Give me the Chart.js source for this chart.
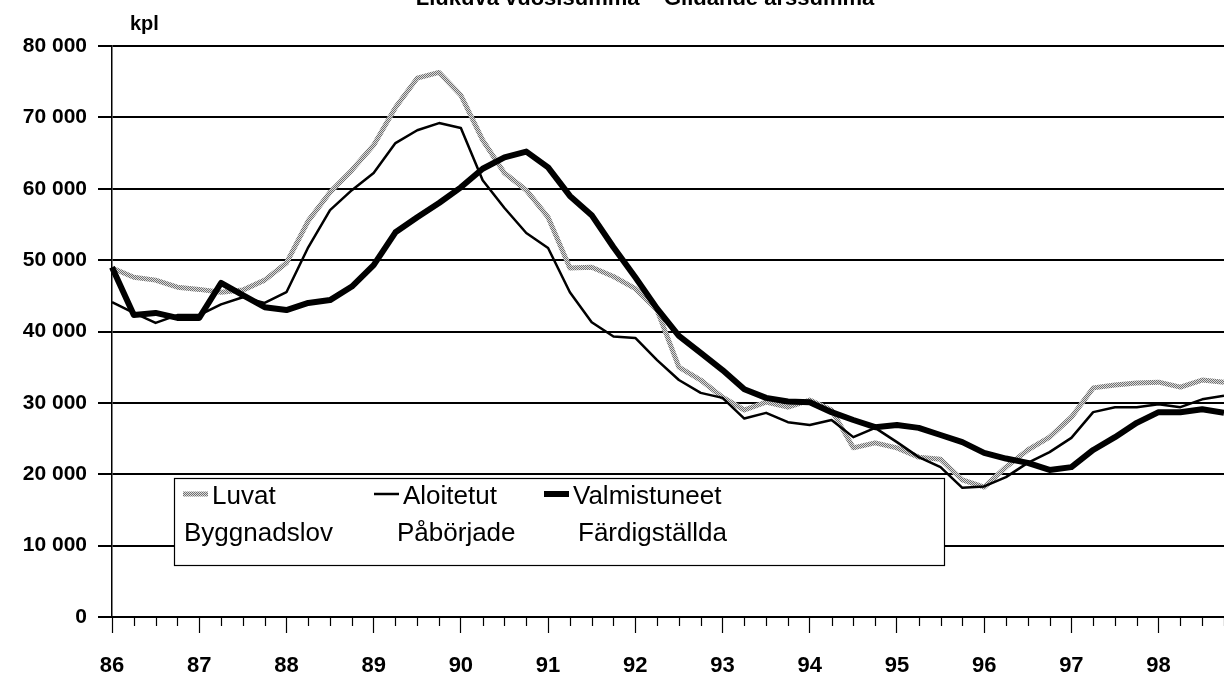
<!DOCTYPE html>
<html><head><meta charset="utf-8">
<script src="https://cdn.jsdelivr.net/npm/chart.js@4/dist/chart.umd.min.js"></script>
<style>html,body{margin:0;padding:0;background:#fff;}#wrap{width:1224px;height:674px;}</style>
</head><body><div id="wrap"><canvas id="c" width="1224" height="674"></canvas></div>
<script>
const titleText = 'Liukuva vuosisumma – Glidande årssumma';
const unitLabel = 'kpl';
const years = ['86','87','88','89','90','91','92','93','94','95','96','97','98'];
const quartersPerYear = 4;
const seriesNamesFi = ['Luvat','Aloitetut','Valmistuneet'];
const seriesNamesSv = ['Byggnadslov','Påbörjade','Färdigställda'];

const luvat = [48900,47600,47200,46200, 45900,45500,45800,47200, 49600,55500,59500,62600,
  66100,71400,75500,76300, 73100,66800,62200,59800, 56000,48900,49000,47700,
  46000,43000,35000,33200, 30800,29000,30100,29400, 30400,29000,23700,24400,
  23700,22400,22100,19200, 18200,21000,23400,25200, 28000,32100,32500,32800,
  32900,32200,33200,32900];
const aloitetut = [44100,42600,41200,42300, 42300,43800,44800,44000, 45500,51800,57000,59800,
  62200,66400,68200,69200, 68500,61200,57300,53800, 51700,45500,41300,39300,
  39100,36000,33200,31400, 30700,27800,28600,27300, 26900,27600,25200,26500,
  24500,22400,21000,18100, 18300,19600,21600,23100, 25100,28700,29400,29400,
  29800,29400,30500,31000];
const valmistuneet = [49000,42300,42600,41900, 41900,46800,45100,43400, 43000,44000,44400,46300,
  49300,53900,56000,58000, 60200,62800,64400,65200, 63000,59000,56300,51800,
  47600,43200,39400,37000, 34600,31900,30700,30200, 30100,28700,27600,26600,
  26900,26500,25500,24500, 23000,22200,21600,20600, 21000,23400,25200,27200,
  28700,28700,29100,28600];

const categories = [];
years.forEach(y => { for (let q = 1; q <= quartersPerYear; q++) categories.push(y + '/' + q); });

const FONT = "'Liberation Sans', Arial, sans-serif";

const pc = document.createElement('canvas'); pc.width = 2; pc.height = 2;
const pctx = pc.getContext('2d');
pctx.fillStyle = '#dcdcdc'; pctx.fillRect(0,0,2,2);
pctx.fillStyle = '#707070'; pctx.fillRect(0,0,1,1); pctx.fillRect(1,1,1,1);
const greyPattern = document.getElementById('c').getContext('2d').createPattern(pc, 'repeat');

const overlay = {
  id: 'overlay',
  afterDraw(chart) {
    const ctx = chart.ctx, xs = chart.scales.x, area = chart.chartArea;
    ctx.save();
    ctx.strokeStyle = '#000'; ctx.lineWidth = 1.2;
    for (let i = 0; i < categories.length; i++) {
      if (i % quartersPerYear === 0) continue;
      const x = Math.round(xs.getPixelForValue(i)) + 0.5;
      ctx.beginPath(); ctx.moveTo(x, area.bottom); ctx.lineTo(x, area.bottom + 9); ctx.stroke();
    }
    ctx.fillStyle = '#000';
    ctx.font = 'bold 22px ' + FONT;
    ctx.textAlign = 'center'; ctx.textBaseline = 'alphabetic';
    ctx.fillText(titleText, 645, 5);
    ctx.font = 'bold 20px ' + FONT;
    ctx.textAlign = 'left';
    ctx.fillText(unitLabel, 130, 30);
    const bx = 174, by = 478, bw = 770, bh = 87;
    ctx.fillStyle = '#fff'; ctx.fillRect(bx, by, bw, bh);
    ctx.strokeStyle = '#000'; ctx.lineWidth = 1.2;
    ctx.strokeRect(bx + 0.5, by + 0.5, bw, bh);
    const ds = chart.data.datasets;
    const itemX = [183, 374, 544];
    const svX = [184, 397, 578];
    ctx.font = '26px ' + FONT;
    for (let k = 0; k < 3; k++) {
      const d = ds[k];
      ctx.strokeStyle = d.borderColor; ctx.lineWidth = d.borderWidth;
      ctx.beginPath(); ctx.moveTo(itemX[k], 494); ctx.lineTo(itemX[k] + 25, 494); ctx.stroke();
      ctx.fillStyle = '#000';
      ctx.fillText(seriesNamesFi[k], itemX[k] + 29, 504);
      ctx.fillText(seriesNamesSv[k], svX[k], 541);
    }
    ctx.restore();
  }
};

new Chart(document.getElementById('c'), {
  type: 'line',
  data: {
    labels: categories,
    datasets: [
      { label: seriesNamesFi[0], data: luvat, borderColor: greyPattern, borderWidth: 5, order: 3 },
      { label: seriesNamesFi[1], data: aloitetut, borderColor: '#000', borderWidth: 2.5, order: 2 },
      { label: seriesNamesFi[2], data: valmistuneet, borderColor: '#000', borderWidth: 6, order: 1 }
    ]
  },
  options: {
    responsive: false, animation: false, devicePixelRatio: 1,
    layout: { padding: { top: 46, right: 0, left: 0, bottom: 0 } },
    elements: { point: { radius: 0 }, line: { tension: 0, borderJoinStyle: 'round', borderCapStyle: 'butt' } },
    plugins: { legend: { display: false }, tooltip: { enabled: false }, title: { display: false } },
    scales: {
      x: {
        type: 'category', offset: false,
        grid: { drawOnChartArea: false, drawTicks: true, tickLength: 16, tickWidth: 1.2,
          tickColor: c => (c.index % quartersPerYear === 0 ? '#000' : 'rgba(0,0,0,0)') },
        border: { display: true, color: '#000', width: 2 },
        ticks: { autoSkip: false, maxRotation: 0, minRotation: 0, padding: 20, color: '#000',
          font: { family: FONT, size: 22, weight: 'bold' },
          callback: (v, i) => (i % quartersPerYear === 0 ? years[i / quartersPerYear] : '') },
        afterFit: s => { s.height = 57; s.paddingRight = 0; s.paddingLeft = 0; }
      },
      y: {
        min: 0, max: 80000,
        grid: { color: '#000', lineWidth: 2, tickLength: 14, drawTicks: true },
        border: { display: true, color: '#000', width: 1.5 },
        ticks: { stepSize: 10000, padding: 11, color: '#000',
          font: { family: FONT, size: 21, weight: 'bold' },
          callback: v => (v === 0 ? '0' : (v / 1000) + ' 000') },
        afterFit: s => { s.width = 112; s.paddingTop = 0; s.paddingBottom = 0; }
      }
    }
  },
  plugins: [overlay]
});
</script></body></html>
